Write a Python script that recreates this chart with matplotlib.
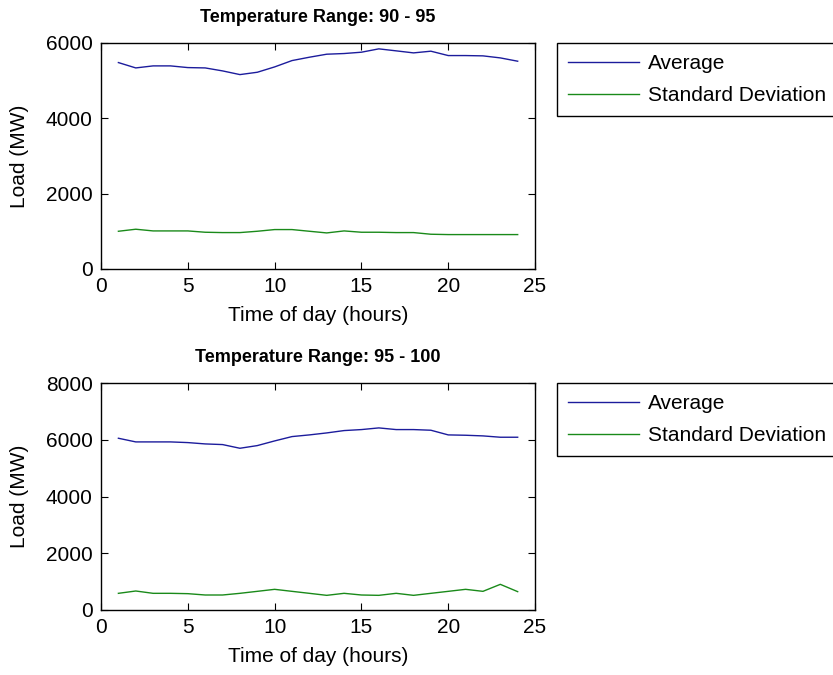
import matplotlib
matplotlib.use("Agg")
import matplotlib.pyplot as plt

# === data ===
hours = list(range(1, 25))

avg_90_95 = [5477, 5335, 5389, 5389, 5344, 5335, 5256, 5158, 5220, 5362, 5530, 5619,
             5699, 5717, 5752, 5841, 5788, 5734, 5779, 5663, 5663, 5655, 5601, 5513]
std_90_95 = [1001, 1055, 1010, 1010, 1010, 975, 966, 966, 1001, 1046, 1046, 1001,
             957, 1010, 975, 975, 966, 966, 922, 913, 913, 913, 913, 913]

avg_95_100 = [6058, 5929, 5929, 5929, 5905, 5858, 5835, 5705, 5799, 5964, 6117, 6176,
              6246, 6329, 6364, 6423, 6364, 6364, 6341, 6176, 6164, 6141, 6094, 6094]
std_95_100 = [588, 670, 588, 588, 576, 529, 529, 588, 658, 729, 658, 588,
              517, 588, 529, 517, 588, 517, 588, 658, 729, 658, 905, 647]

panels = [
    ("Temperature Range: 90 - 95", avg_90_95, std_90_95, [0, 2000, 4000, 6000]),
    ("Temperature Range: 95 - 100", avg_95_100, std_95_100, [0, 2000, 4000, 6000, 8000]),
]

plt.rcParams["font.family"] = ["Liberation Sans", "DejaVu Sans"]

fig = plt.figure(figsize=(8.33, 6.75), dpi=100)
positions = [[0.1213, 0.6015, 0.521, 0.335], [0.1213, 0.0963, 0.521, 0.336]]
legend_tops = [1 - 43 / 675, 1 - 383 / 675]

for pos, ltop, (title, avg, std, yticks) in zip(positions, legend_tops, panels):
    ax = fig.add_axes(pos)
    ax.plot(hours, avg, color="#1c1c9c", lw=1.0, label="Average")
    ax.plot(hours, std, color="#1a8a1a", lw=1.0, label="Standard Deviation")
    ax.set_xlim(0, 25)
    ax.set_ylim(yticks[0], yticks[-1])
    ax.set_xticks([0, 5, 10, 15, 20, 25])
    ax.set_yticks(yticks)
    ax.tick_params(direction="in", top=True, right=True, length=5, labelsize=15)
    ax.tick_params(axis="x", pad=6)
    ax.tick_params(axis="y", pad=6)
    ax.set_title(title, fontsize=13, fontweight="bold", pad=15)
    ax.set_xlabel("Time of day (hours)", fontsize=15, labelpad=7)
    ax.set_ylabel("Load (MW)", fontsize=15, labelpad=12)
    for s in ax.spines.values():
        s.set_linewidth(1.0)
    leg = ax.legend(loc="upper left", bbox_to_anchor=(557 / 833, ltop),
                    bbox_transform=fig.transFigure, fancybox=False, framealpha=1,
                    edgecolor="black", fontsize=15, handlelength=3.4,
                    handletextpad=0.4, borderaxespad=0, borderpad=0.55,
                    labelspacing=0.6)
    leg.get_frame().set_linewidth(1.0)

fig.savefig("out.png", dpi=100)
